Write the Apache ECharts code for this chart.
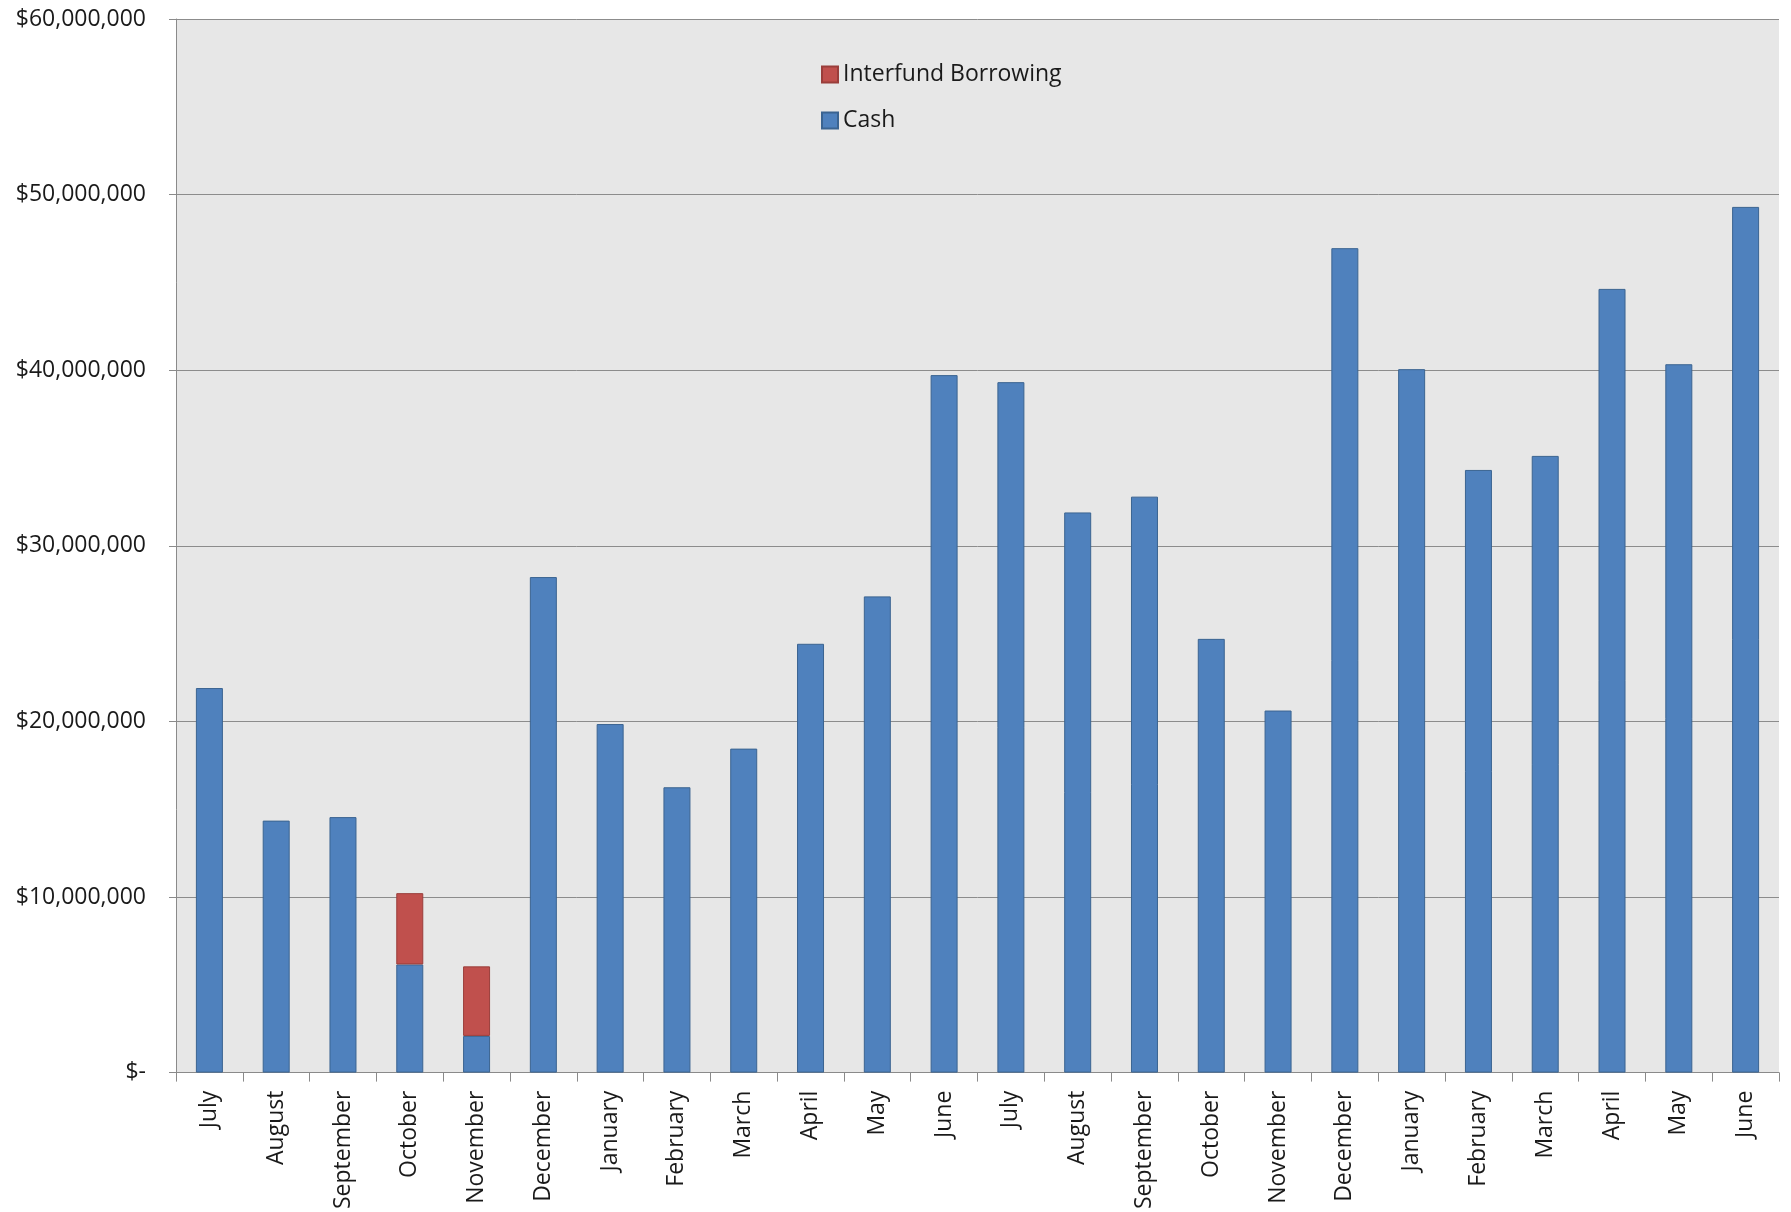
<!DOCTYPE html>
<html>
<head>
<meta charset="utf-8">
<script src="https://cdn.jsdelivr.net/npm/echarts@6/dist/echarts.min.js"></script>
<style>
html,body{margin:0;padding:0;background:#fff;}
#chart{width:1791px;height:1212px;}
</style>
</head>
<body>
<div id="chart"></div>
<script>
const categories = ['July','August','September','October','November','December','January','February','March','April','May','June',
  'July','August','September','October','November','December','January','February','March','April','May','June'];
const cashValues = [21.9,14.35,14.55,6.16,2.09,28.22,19.85,16.25,18.45,24.42,27.12,39.72,
  39.32,31.9,32.8,24.7,20.62,46.95,40.06,34.32,35.12,44.63,40.34,49.3].map(v => v * 1e6);
const borrowingValues = [null,null,null,4.06,3.96,null,null,null,null,null,null,null,
  null,null,null,null,null,null,null,null,null,null,null,null].map(v => v === null ? null : v * 1e6);
const yTicks = [0,10e6,20e6,30e6,40e6,50e6,60e6];

const font = '"Open Sans", "Noto Sans", sans-serif';
const chart = echarts.init(document.getElementById('chart'));
chart.setOption({
  animation: false,
  backgroundColor: '#ffffff',
  grid: {left: 176, right: 12, top: 19, bottom: 138, show: true, backgroundColor: '#E7E7E7', borderWidth: 0, containLabel: false},
  legend: {
    orient: 'vertical', left: 816, top: 58,
    data: ['Interfund Borrowing', 'Cash'],
    itemWidth: 16, itemHeight: 16, itemGap: 23,
    icon: 'rect',
    textStyle: {fontFamily: font, fontSize: 23, color: '#1a1a1a'}
  },
  xAxis: {
    type: 'category', data: categories,
    axisLine: {lineStyle: {color: '#8a8a8a', width: 1}},
    axisTick: {show: true, length: 9, lineStyle: {color: '#8a8a8a'}},
    axisLabel: {rotate: 90, interval: 0, margin: 18, fontFamily: font, fontSize: 23, color: '#1a1a1a'}
  },
  yAxis: {
    type: 'value', min: 0, max: 60e6, interval: 10e6,
    axisLine: {show: true, lineStyle: {color: '#8a8a8a', width: 1}},
    axisTick: {show: true, length: 7, lineStyle: {color: '#8a8a8a'}},
    splitLine: {show: true, lineStyle: {color: '#8c8c8c', width: 1}},
    axisLabel: {
      margin: 30, fontFamily: font, fontSize: 23, color: '#1a1a1a',
      formatter: v => yTicks.includes(v) ? (v === 0 ? '$-' : '$' + v.toLocaleString('en-US')) : ''
    }
  },
  series: [
    {name: 'Cash', type: 'bar', stack: 'total', data: cashValues, barWidth: 27,
      itemStyle: {color: '#4F81BD', borderColor: '#3B6491', borderWidth: 1}},
    {name: 'Interfund Borrowing', type: 'bar', stack: 'total', data: borrowingValues, barWidth: 27,
      itemStyle: {color: '#C0504D', borderColor: '#9A3E3B', borderWidth: 1}}
  ]
});
</script>
</body>
</html>
